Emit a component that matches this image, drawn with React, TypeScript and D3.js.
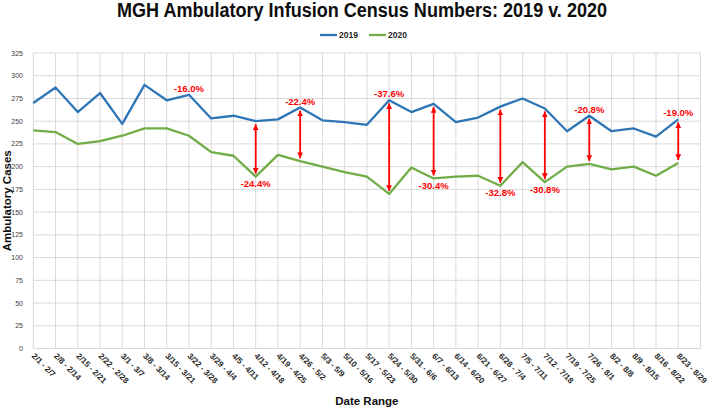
import React, { useEffect, useRef } from "react";
import * as d3 from "d3";

const dateRanges = [
  "2/1 - 2/7", "2/8 - 2/14", "2/15 - 2/21", "2/22 - 2/28", "3/1 - 3/7",
  "3/8 - 3/14", "3/15 - 3/21", "3/22 - 3/28", "3/29 - 4/4", "4/5 - 4/11",
  "4/12 - 4/18", "4/19 - 4/25", "4/26 - 5/2", "5/3 - 5/9", "5/10 - 5/16",
  "5/17 - 5/23", "5/24 - 5/30", "5/31 - 6/6", "6/7 - 6/13", "6/14 - 6/20",
  "6/21 - 6/27", "6/28 - 7/4", "7/5 - 7/11", "7/12 - 7/18", "7/19 - 7/25",
  "7/26 - 8/1", "8/2 - 8/8", "8/9 - 8/15", "8/16 - 8/22", "8/23 - 8/29",
];

const cases2019 = [
  270, 287, 260, 281, 247, 290, 273, 279, 253, 256, 250, 252, 265, 251, 249,
  246, 273, 260, 269, 249, 254, 266, 275, 264, 239, 256, 239, 242, 233, 252,
];

const cases2020 = [
  240, 238, 225, 228, 234, 242, 242, 234, 216, 212, 189, 213, 206, 200, 194,
  189, 170, 199, 187, 189, 190, 179, 205, 183, 200, 203, 197, 200, 190, 204,
];

// week index, label, where the label sits, whether there is an arrow
const changeIdx = [7, 10, 12, 16, 18, 21, 23, 25, 29];
const changeText = ["-16.0%", "-24.4%", "-22.4%", "-37.6%", "-30.4%", "-32.8%", "-30.8%", "-20.8%", "-19.0%"];
const changeAbove = [true, false, true, true, false, false, false, true, true];
const changeArrow = [false, true, true, true, true, true, true, true, true];

const yTicks = d3.range(0, 326, 25);

const BLUE = "#2e75b6";
const GREEN = "#70ad47";
const RED = "#ff0000";
const FONT = "'Liberation Sans', Arial, sans-serif";

const App = () => {
  const svgRef = useRef(null);

  useEffect(() => {
    const w = 709;
    const h = 409;
    const left = 33.3;
    const right = 700.5;
    const top = 53;
    const bottom = 348.5;

    const svg = d3.select(svgRef.current).attr("width", w).attr("height", h);

    const x = d3.scaleLinear().domain([0, dateRanges.length]).range([left, right]);
    const y = d3.scaleLinear().domain([0, 325]).range([bottom, top]);

    // grid
    const grid = svg.append("g").attr("stroke", "#d9d9d9").attr("stroke-width", 1);
    grid
      .selectAll("line.h")
      .data(yTicks)
      .enter()
      .append("line")
      .attr("x1", left)
      .attr("x2", right)
      .attr("y1", (d) => y(d))
      .attr("y2", (d) => y(d));
    grid
      .selectAll("line.v")
      .data(d3.range(0, dateRanges.length + 1))
      .enter()
      .append("line")
      .attr("x1", (d) => x(d))
      .attr("x2", (d) => x(d))
      .attr("y1", top)
      .attr("y2", bottom);

    // y tick labels
    svg
      .append("g")
      .selectAll("text")
      .data(yTicks)
      .enter()
      .append("text")
      .attr("x", 23)
      .attr("y", (d) => y(d) + 2.5)
      .attr("text-anchor", "end")
      .style("font", `7px ${FONT}`)
      .attr("fill", "#404040")
      .text((d) => d);

    // x tick labels
    svg
      .append("g")
      .selectAll("text")
      .data(dateRanges)
      .enter()
      .append("text")
      .attr("transform", (d, i) => `translate(${x(i) - 2}, 356.5) rotate(45)`)
      .style("font", `bold 8.1px ${FONT}`)
      .attr("fill", "#262626")
      .text((d) => d);

    // lines
    const line = d3
      .line<number>()
      .x((d, i) => x(i))
      .y((d) => y(d));

    svg
      .append("path")
      .datum(cases2019)
      .attr("d", line)
      .attr("fill", "none")
      .attr("stroke", BLUE)
      .attr("stroke-width", 2.3)
      .attr("stroke-linejoin", "round");
    svg
      .append("path")
      .datum(cases2020)
      .attr("d", line)
      .attr("fill", "none")
      .attr("stroke", GREEN)
      .attr("stroke-width", 2.3)
      .attr("stroke-linejoin", "round");

    // arrows
    const defs = svg.append("defs");
    ["start", "end"].forEach((k) => {
      defs
        .append("marker")
        .attr("id", "arr-" + k)
        .attr("viewBox", "0 0 10 10")
        .attr("refX", 10)
        .attr("refY", 5)
        .attr("markerWidth", 3.2)
        .attr("markerHeight", 3.2)
        .attr("orient", k === "start" ? "auto-start-reverse" : "auto")
        .append("path")
        .attr("d", "M0,0 L10,5 L0,10 z")
        .attr("fill", RED);
    });

    changeIdx.forEach((idx, k) => {
      const cx = x(idx);
      const y1 = y(cases2019[idx]);
      const y2 = y(cases2020[idx]);
      if (changeArrow[k]) {
        svg
          .append("line")
          .attr("x1", cx)
          .attr("x2", cx)
          .attr("y1", y1 + 3)
          .attr("y2", y2 - 3)
          .attr("stroke", RED)
          .attr("stroke-width", 1.8)
          .attr("marker-start", "url(#arr-start)")
          .attr("marker-end", "url(#arr-end)");
      }
      svg
        .append("text")
        .attr("x", cx)
        .attr("y", changeAbove[k] ? y1 - 3 : y2 + 10.5)
        .attr("text-anchor", "middle")
        .style("font", `bold 9.5px ${FONT}`)
        .attr("fill", RED)
        .text(changeText[k]);
    });

    // title
    svg
      .append("text")
      .attr("x", 362)
      .attr("y", 17)
      .attr("text-anchor", "middle")
      .attr("textLength", 490)
      .attr("lengthAdjust", "spacingAndGlyphs")
      .style("font", `bold 20px ${FONT}`)
      .attr("fill", "#0d0d0d")
      .text("MGH Ambulatory Infusion Census Numbers: 2019 v. 2020");

    // legend
    const legend = svg.append("g");
    [
      { name: "2019", color: BLUE, x0: 320 },
      { name: "2020", color: GREEN, x0: 369 },
    ].forEach((d) => {
      legend
        .append("line")
        .attr("x1", d.x0)
        .attr("x2", d.x0 + 17)
        .attr("y1", 35)
        .attr("y2", 35)
        .attr("stroke", d.color)
        .attr("stroke-width", 2.3);
      legend
        .append("text")
        .attr("x", d.x0 + 19)
        .attr("y", 38)
        .style("font", `bold 8.5px ${FONT}`)
        .attr("fill", "#262626")
        .text(d.name);
    });

    // axis titles
    svg
      .append("text")
      .attr("transform", `translate(11, ${(top + bottom) / 2}) rotate(-90)`)
      .attr("text-anchor", "middle")
      .style("font", `bold 11.5px ${FONT}`)
      .attr("fill", "#0d0d0d")
      .text("Ambulatory Cases");
    svg
      .append("text")
      .attr("x", (left + right) / 2)
      .attr("y", 405)
      .attr("text-anchor", "middle")
      .style("font", `bold 11.5px ${FONT}`)
      .attr("fill", "#0d0d0d")
      .text("Date Range");

    return () => {
      svg.selectAll("*").remove();
    };
  }, []);

  return (
    <svg
      ref={svgRef}
      style={{ position: "absolute", left: 0, top: 0, background: "#fff" }}
    />
  );
};

export default App;
